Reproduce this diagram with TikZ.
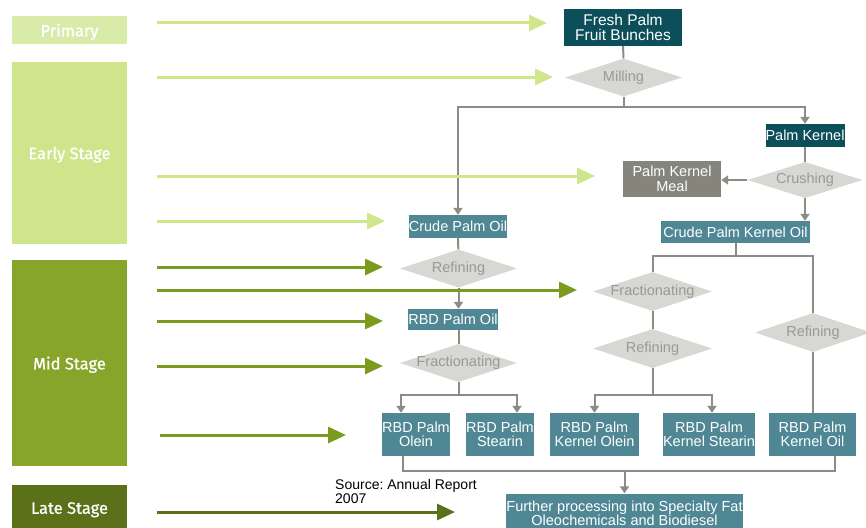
\documentclass[tikz,border=0pt]{standalone}
\usepackage{fontspec}
\setmainfont{Liberation Sans}
\newfontfamily\stagefont[FakeBold=0.8]{Fira Sans}
\usetikzlibrary{shapes.geometric,arrows.meta}

\definecolor{tealdark}{HTML}{0C4F5B}
\definecolor{tealbox}{HTML}{4F8795}
\definecolor{mealgray}{HTML}{85857B}
\definecolor{diamondgray}{HTML}{D7D7D3}
\definecolor{diamondtext}{HTML}{9A9A95}
\definecolor{linkgray}{HTML}{8C8C84}
\definecolor{primarygreen}{HTML}{D8EBA9}
\definecolor{earlygreen}{HTML}{CFE58B}
\definecolor{midgreen}{HTML}{86A52A}
\definecolor{lategreen}{HTML}{5B7119}
\definecolor{earlycue}{HTML}{CFE68A}
\definecolor{midcue}{HTML}{7B9B1E}

\begin{document}
\frenchspacing
\begin{tikzpicture}[
x=1pt,
y=-1pt,
stagebox/.style={
  fill=#1,
  text=white,
  minimum width=115pt,
  inner sep=0pt,
  text depth=0pt,
  font=\stagefont\fontsize{16.5}{18}\selectfont
  },
box/.style={
  fill=tealbox,
  text=white,
  inner sep=0pt,
  align=center,
  font=\fontsize{14.5}{14.5}\selectfont
  },
process/.style={
  diamond,
  fill=diamondgray,
  text=diamondtext,
  inner xsep=-60pt,
  inner ysep=-10pt,
  minimum width=117pt,
  minimum height=38pt,
  font=\fontsize{14.5}{14.5}\selectfont
  },
link/.style={
  draw=linkgray,
  line width=2pt,
  >={Triangle[length=7pt,width=9pt]}
  },
cue/.style={
  draw=#1,
  line width=3pt,
  -{Triangle[length=18pt,width=16pt]}
  },
source/.style={
  inner sep=0pt,
  align=left,
  font=\fontsize{14}{14}\selectfont
  }
]
\useasboundingbox (0,0) rectangle (866,527);
\clip (0,0) rectangle (866,527);
\fill[white] (0,0) rectangle (866,527);

% stages
\node[stagebox=primarygreen, minimum height=28pt] (primary) at (69.5,30) {Primary};
\node[stagebox=earlygreen, minimum height=182pt] (early) at (69.5,153) {Early Stage};
\node[stagebox=midgreen, minimum height=206pt] (mid) at (69.5,363) {Mid Stage};
\node[stagebox=lategreen, minimum height=46pt] (late) at (69.5,508) {Late Stage};

% flow chart
\node[box, fill=tealdark, minimum width=118pt, minimum height=37pt, font=\fontsize{15.5}{15}\selectfont] (fresh) at (623,27.5) {Fresh Palm\\Fruit Bunches};
\node[process] (mill) at (623.5,77.5) {Milling};
\node[box, fill=tealdark, minimum width=79pt, minimum height=23pt] (kernel) at (805,135.5) {Palm Kernel};
\node[process, minimum width=115pt, minimum height=36pt] (crush) at (805,180) {Crushing};
\node[box, fill=mealgray, minimum width=98pt, minimum height=36pt] (meal) at (672,179) {Palm Kernel\\Meal};
\node[box, minimum width=149pt, minimum height=22pt] (cpko) at (735.5,232) {Crude Palm Kernel Oil};
\node[box, minimum width=98pt, minimum height=23pt] (cpo) at (458,226.5) {Crude Palm Oil};
\node[process] (refa) at (458.5,268.5) {Refining};
\node[box, minimum width=90pt, minimum height=21pt] (rbdpo) at (453,319.5) {RBD Palm Oil};
\node[process] (fraca) at (458.5,363) {Fractionating};
\node[box, minimum width=68pt, minimum height=43pt] (olein) at (416,434.5) {RBD Palm\\Olein};
\node[box, minimum width=68pt, minimum height=43pt] (stearin) at (500,434.5) {RBD Palm\\Stearin};
\node[process, minimum width=119pt, minimum height=39pt] (fracb) at (652.5,291.5) {Fractionating};
\node[process, minimum width=119pt, minimum height=39pt] (refb) at (652.5,348.5) {Refining};
\node[process, minimum width=116pt, minimum height=39pt] (refc) at (813,332.5) {Refining};
\node[box, minimum width=89pt, minimum height=43pt] (kolein) at (594.5,434.5) {RBD Palm\\Kernel Olein};
\node[box, minimum width=88pt, minimum height=43pt] (kstearin) at (709,434.5) {RBD Palm\\Kernel Stearin};
\node[box, minimum width=87pt, minimum height=43pt] (koil) at (812.5,434.5) {RBD Palm\\Kernel Oil};
\node[box, minimum width=235pt, minimum height=40pt] (further) at (624.5,513.5) {Further processing into Specialty Fat\\Oleochemicals and Biodiesel};
\node[source, anchor=north west] (src) at (335,479.5) {Source: Annual Report\\2007};

% connectors
\coordinate (millsplit) at (mill.south |- 0,107);
\draw[link] (fresh) -- (mill);
\draw[link] (mill) -- (millsplit);
\draw[link,->] (millsplit) -| (cpo);
\draw[link,->] (millsplit) -| (kernel);
\draw[link] (kernel) -- (crush);
\draw[link,->] (crush.west) -- (crush.west -| meal.east);
\draw[link,->] (crush.south) -- (crush.south |- cpko.north);
\coordinate (cpkosplit) at (cpko.south |- 0,256);
\draw[link] (cpko) -- (cpkosplit);
\draw[link] (cpkosplit) -| (fracb);
\draw[link] (cpkosplit) -| (refc);
\draw[link] (fracb) -- (refb);
\draw[link] (refc.south) -- (refc.south |- koil.north);
\draw[link] (cpo) -- (refa);
\draw[link,->] (refa.south) -- (refa.south |- rbdpo.north);
\draw[link] (rbdpo.south -| fraca.north) -- (fraca.north);
\coordinate (fracasplit) at (fraca.south |- 0,395);
\draw[link] (fraca) -- (fracasplit);
\draw[link,->] (fracasplit) -| ([xshift=-15pt]olein.north);
\draw[link,->] (fracasplit) -| ([xshift=17pt]stearin.north);
\coordinate (refbsplit) at (refb.south |- 0,395);
\draw[link] (refb) -- (refbsplit);
\draw[link,->] (refbsplit) -| (kolein);
\draw[link,->] (refbsplit) -| ([xshift=3pt]kstearin.north);
\coordinate (collect) at (further.north |- 0,471);
\draw[link] ([xshift=-13pt]olein.south) |- (collect) -| ([xshift=22.5pt]koil.south);
\draw[link,->] (collect) -- (further);

% stage arrows
\foreach \y/\x in {23/547,77/553,176/595,221/385}
  \draw[cue=earlycue] (157,\y) -- (\x,\y);
\foreach \y/\x in {267/383,290/577,321/383,366/383}
  \draw[cue=midcue] (157,\y) -- (\x,\y);
\draw[cue=midcue] (160,435) -- (346,435);
\draw[cue=lategreen] (157,512) -- (455,512);
\end{tikzpicture}
\end{document}
